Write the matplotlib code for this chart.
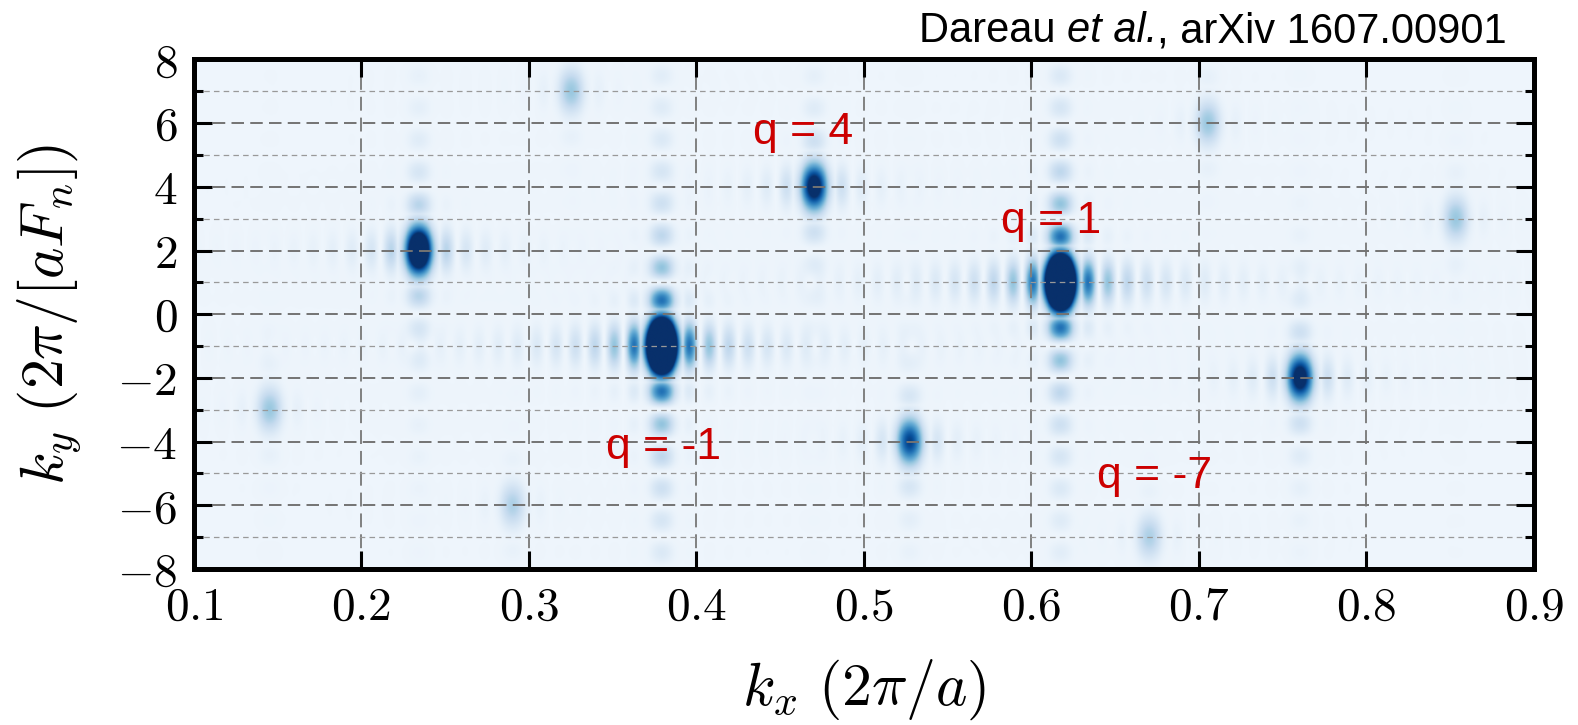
import numpy as np
import matplotlib
matplotlib.use("Agg")
import matplotlib.pyplot as plt
from matplotlib import colors, ticker

plt.rcParams["mathtext.fontset"] = "cm"
plt.rcParams["font.family"] = ["Liberation Sans", "DejaVu Sans"]
plt.rcParams["lines.scale_dashes"] = False

# ── data ─────────────────────────────────────────────────────────
spot_kx  = [0.617, 0.379, 0.234, 0.760, 0.470, 0.527, 0.145, 0.853, 0.290, 0.705, 0.325, 0.670]
spot_ky  = [1, -1, 2, -2, 4, -4, -3, 3, -6, 6, 7, -7]
spot_amp = [13.0, 13.0, 2.6, 1.4, 1.4, 0.9, 0.2, 0.2, 0.15, 0.2, 0.2, 0.15]

labels_q   = ["q = 4", "q = 1", "q = -1", "q = -7"]
labels_kx  = [0.434, 0.582, 0.346, 0.639]
labels_ky  = [5.7, 2.9, -4.2, -5.1]

x_ticks = [0.1, 0.2, 0.3, 0.4, 0.5, 0.6, 0.7, 0.8, 0.9]
y_ticks = [-8, -6, -4, -2, 0, 2, 4, 6, 8]

# fringe shape (style)
DX, DY = 0.0115, 1.0
WX, WY = 0.50, 0.56


def profile(u, w):
    return np.maximum(np.sinc(u) ** 2, np.exp(-(u / w) ** 2))


kx = np.linspace(0.1, 0.9, 2000)
ky = np.linspace(-8, 8, 900)
KX, KY = np.meshgrid(kx, ky)
img = np.zeros_like(KX)
for x0, y0, a in zip(spot_kx, spot_ky, spot_amp):
    img += a * profile((KX - x0) / DX, WX) * profile((KY - y0) / DY, WY)

fig = plt.figure(figsize=(15.78, 7.25), dpi=100)
ax = fig.add_axes([0.1229, 0.2152, 0.8492, 0.7028])

ax.imshow(img, extent=[0.1, 0.9, -8, 8], origin="lower", aspect="auto",
          cmap="Blues", norm=colors.PowerNorm(gamma=0.6, vmin=-0.006, vmax=1.0),
          interpolation="bilinear", zorder=0)

ax.set_xlim(0.1, 0.9)
ax.set_ylim(-8, 8)
ax.set_xticks(x_ticks)
ax.set_yticks(y_ticks)
ax.yaxis.set_minor_locator(ticker.MultipleLocator(1))
ax.xaxis.set_major_formatter(ticker.FormatStrFormatter(r"$%.1f$"))
ax.yaxis.set_major_formatter(ticker.FormatStrFormatter(r"$%d$"))

ax.tick_params(which="both", direction="in", top=True, right=True, width=2.2,
               labelsize=34, colors="black")
ax.tick_params(which="major", length=13, pad=12)
ax.tick_params(which="minor", length=6.5)
for s in ax.spines.values():
    s.set_linewidth(3.6)

ax.grid(True, which="major", axis="y", color="0.45", lw=1.4, dashes=(9, 4.5))
ax.grid(True, which="minor", axis="y", color="0.6", lw=0.9, dashes=(4, 3))
ax.grid(True, which="major", axis="x", color="0.5", lw=1.4, dashes=(10, 5))

ax.set_xlabel(r"$k_x\ (2\pi/a)$", fontsize=43, va="center")
ax.xaxis.set_label_coords(0.5, -0.237)
ax.set_ylabel(r"$k_y\ (2\pi/[aF_n])$", fontsize=43, va="center")
ax.yaxis.set_label_coords(-0.108, 0.5)

for t, x, y in zip(labels_q, labels_kx, labels_ky):
    ax.text(x, y, t, color="#cc0000", fontsize=32, ha="left", va="center")

# citation, built right to left so the italic part sits inline
renderer = fig.canvas.get_renderer()
x_px, y_fig = 0.955 * fig.bbox.width, 0.942
for part, style in [(", arXiv 1607.00901", "normal"), ("et al.", "italic"),
                    ("Dareau ", "normal")]:
    t = fig.text(x_px / fig.bbox.width, y_fig, part, fontsize=30, style=style,
                 ha="right", va="baseline")
    x_px = t.get_window_extent(renderer).x0
    if part == "et al.":
        x_px -= 0.0

fig.savefig("out.png", dpi=100)
